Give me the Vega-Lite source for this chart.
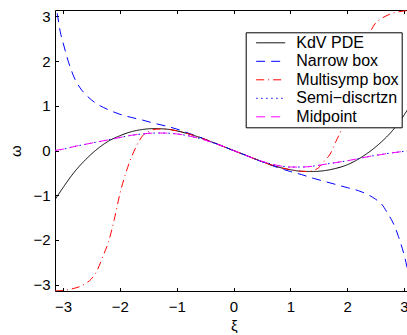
{
  "$schema": "https://vega.github.io/schema/vega-lite/v6.json",
  "width": 352,
  "height": 281,
  "autosize": {"type": "none"},
  "padding": {"left": 55, "top": 10, "right": 0, "bottom": 44},
  "background": "white",
  "config": {
    "view": {"stroke": null},
    "font": "Liberation Sans",
    "axis": {
      "grid": false,
      "domainColor": "black",
      "tickColor": "black",
      "labelColor": "black",
      "titleColor": "black",
      "labelFont": "Liberation Sans",
      "titleFont": "Liberation Sans",
      "labelFontSize": 15,
      "titleFontSize": 15,
      "titleFontWeight": "normal",
      "domainWidth": 1,
      "tickWidth": 1
    }
  },
  "data": {
    "values": [
      {"s": "KdV PDE", "x": -3.1416, "y": -1.10},
      {"s": "KdV PDE", "x": -3.0, "y": -0.83},
      {"s": "KdV PDE", "x": -2.8, "y": -0.48},
      {"s": "KdV PDE", "x": -2.6, "y": -0.20},
      {"s": "KdV PDE", "x": -2.4, "y": 0.03},
      {"s": "KdV PDE", "x": -2.2, "y": 0.21},
      {"s": "KdV PDE", "x": -2.0, "y": 0.33},
      {"s": "KdV PDE", "x": -1.8, "y": 0.42},
      {"s": "KdV PDE", "x": -1.6, "y": 0.47},
      {"s": "KdV PDE", "x": -1.4, "y": 0.49},
      {"s": "KdV PDE", "x": -1.2, "y": 0.48},
      {"s": "KdV PDE", "x": -1.0, "y": 0.44},
      {"s": "KdV PDE", "x": -0.8, "y": 0.375},
      {"s": "KdV PDE", "x": -0.6, "y": 0.295},
      {"s": "KdV PDE", "x": -0.4, "y": 0.20},
      {"s": "KdV PDE", "x": -0.2, "y": 0.10},
      {"s": "KdV PDE", "x": 0.0, "y": 0.0},
      {"s": "KdV PDE", "x": 0.2, "y": -0.10},
      {"s": "KdV PDE", "x": 0.4, "y": -0.20},
      {"s": "KdV PDE", "x": 0.6, "y": -0.295},
      {"s": "KdV PDE", "x": 0.8, "y": -0.375},
      {"s": "KdV PDE", "x": 1.0, "y": -0.43},
      {"s": "KdV PDE", "x": 1.2, "y": -0.465},
      {"s": "KdV PDE", "x": 1.4, "y": -0.47},
      {"s": "KdV PDE", "x": 1.6, "y": -0.45},
      {"s": "KdV PDE", "x": 1.8, "y": -0.40},
      {"s": "KdV PDE", "x": 2.0, "y": -0.32},
      {"s": "KdV PDE", "x": 2.2, "y": -0.19},
      {"s": "KdV PDE", "x": 2.4, "y": -0.02},
      {"s": "KdV PDE", "x": 2.6, "y": 0.19},
      {"s": "KdV PDE", "x": 2.8, "y": 0.45},
      {"s": "KdV PDE", "x": 3.0, "y": 0.79},
      {"s": "KdV PDE", "x": 3.1416, "y": 1.08},

      {"s": "Narrow box", "x": -3.1416, "y": 3.4},
      {"s": "Narrow box", "x": -3.1, "y": 3.05},
      {"s": "Narrow box", "x": -3.05, "y": 2.66},
      {"s": "Narrow box", "x": -3.0, "y": 2.41},
      {"s": "Narrow box", "x": -2.95, "y": 2.18},
      {"s": "Narrow box", "x": -2.9, "y": 1.96},
      {"s": "Narrow box", "x": -2.85, "y": 1.78},
      {"s": "Narrow box", "x": -2.8, "y": 1.62},
      {"s": "Narrow box", "x": -2.7, "y": 1.40},
      {"s": "Narrow box", "x": -2.6, "y": 1.25},
      {"s": "Narrow box", "x": -2.5, "y": 1.13},
      {"s": "Narrow box", "x": -2.4, "y": 1.04},
      {"s": "Narrow box", "x": -2.2, "y": 0.91},
      {"s": "Narrow box", "x": -2.0, "y": 0.81},
      {"s": "Narrow box", "x": -1.8, "y": 0.74},
      {"s": "Narrow box", "x": -1.6, "y": 0.68},
      {"s": "Narrow box", "x": -1.4, "y": 0.61},
      {"s": "Narrow box", "x": -1.2, "y": 0.55},
      {"s": "Narrow box", "x": -1.0, "y": 0.48},
      {"s": "Narrow box", "x": -0.8, "y": 0.39},
      {"s": "Narrow box", "x": -0.6, "y": 0.30},
      {"s": "Narrow box", "x": -0.4, "y": 0.20},
      {"s": "Narrow box", "x": -0.2, "y": 0.10},
      {"s": "Narrow box", "x": 0.0, "y": 0.0},
      {"s": "Narrow box", "x": 0.2, "y": -0.10},
      {"s": "Narrow box", "x": 0.4, "y": -0.20},
      {"s": "Narrow box", "x": 0.6, "y": -0.30},
      {"s": "Narrow box", "x": 0.8, "y": -0.39},
      {"s": "Narrow box", "x": 1.0, "y": -0.47},
      {"s": "Narrow box", "x": 1.2, "y": -0.54},
      {"s": "Narrow box", "x": 1.4, "y": -0.62},
      {"s": "Narrow box", "x": 1.6, "y": -0.69},
      {"s": "Narrow box", "x": 1.8, "y": -0.76},
      {"s": "Narrow box", "x": 2.0, "y": -0.83},
      {"s": "Narrow box", "x": 2.2, "y": -0.90},
      {"s": "Narrow box", "x": 2.4, "y": -1.01},
      {"s": "Narrow box", "x": 2.5, "y": -1.09},
      {"s": "Narrow box", "x": 2.6, "y": -1.19},
      {"s": "Narrow box", "x": 2.7, "y": -1.38},
      {"s": "Narrow box", "x": 2.8, "y": -1.60},
      {"s": "Narrow box", "x": 2.85, "y": -1.74},
      {"s": "Narrow box", "x": 2.9, "y": -1.92},
      {"s": "Narrow box", "x": 2.95, "y": -2.11},
      {"s": "Narrow box", "x": 3.0, "y": -2.33},
      {"s": "Narrow box", "x": 3.05, "y": -2.60},
      {"s": "Narrow box", "x": 3.1, "y": -2.98},
      {"s": "Narrow box", "x": 3.1416, "y": -3.4},

      {"s": "Multisymp box", "x": -3.1416, "y": -3.14},
      {"s": "Multisymp box", "x": -3.0, "y": -3.13},
      {"s": "Multisymp box", "x": -2.9, "y": -3.11},
      {"s": "Multisymp box", "x": -2.8, "y": -3.08},
      {"s": "Multisymp box", "x": -2.7, "y": -3.04},
      {"s": "Multisymp box", "x": -2.6, "y": -2.97},
      {"s": "Multisymp box", "x": -2.5, "y": -2.87},
      {"s": "Multisymp box", "x": -2.4, "y": -2.68},
      {"s": "Multisymp box", "x": -2.3, "y": -2.37},
      {"s": "Multisymp box", "x": -2.2, "y": -2.04},
      {"s": "Multisymp box", "x": -2.1, "y": -1.55},
      {"s": "Multisymp box", "x": -2.0, "y": -0.97},
      {"s": "Multisymp box", "x": -1.9, "y": -0.52},
      {"s": "Multisymp box", "x": -1.8, "y": -0.16},
      {"s": "Multisymp box", "x": -1.7, "y": 0.12},
      {"s": "Multisymp box", "x": -1.6, "y": 0.33},
      {"s": "Multisymp box", "x": -1.5, "y": 0.42},
      {"s": "Multisymp box", "x": -1.4, "y": 0.47},
      {"s": "Multisymp box", "x": -1.3, "y": 0.48},
      {"s": "Multisymp box", "x": -1.2, "y": 0.48},
      {"s": "Multisymp box", "x": -1.0, "y": 0.44},
      {"s": "Multisymp box", "x": -0.8, "y": 0.375},
      {"s": "Multisymp box", "x": -0.6, "y": 0.295},
      {"s": "Multisymp box", "x": -0.4, "y": 0.20},
      {"s": "Multisymp box", "x": -0.2, "y": 0.10},
      {"s": "Multisymp box", "x": 0.0, "y": 0.0},
      {"s": "Multisymp box", "x": 0.2, "y": -0.10},
      {"s": "Multisymp box", "x": 0.4, "y": -0.20},
      {"s": "Multisymp box", "x": 0.6, "y": -0.295},
      {"s": "Multisymp box", "x": 0.8, "y": -0.375},
      {"s": "Multisymp box", "x": 1.0, "y": -0.43},
      {"s": "Multisymp box", "x": 1.2, "y": -0.465},
      {"s": "Multisymp box", "x": 1.3, "y": -0.47},
      {"s": "Multisymp box", "x": 1.4, "y": -0.45},
      {"s": "Multisymp box", "x": 1.5, "y": -0.38},
      {"s": "Multisymp box", "x": 1.6, "y": -0.23},
      {"s": "Multisymp box", "x": 1.7, "y": -0.08},
      {"s": "Multisymp box", "x": 1.8, "y": 0.20},
      {"s": "Multisymp box", "x": 1.9, "y": 0.48},
      {"s": "Multisymp box", "x": 2.0, "y": 0.93},
      {"s": "Multisymp box", "x": 2.1, "y": 1.51},
      {"s": "Multisymp box", "x": 2.2, "y": 2.00},
      {"s": "Multisymp box", "x": 2.3, "y": 2.33},
      {"s": "Multisymp box", "x": 2.4, "y": 2.64},
      {"s": "Multisymp box", "x": 2.5, "y": 2.85},
      {"s": "Multisymp box", "x": 2.6, "y": 2.95},
      {"s": "Multisymp box", "x": 2.7, "y": 3.02},
      {"s": "Multisymp box", "x": 2.8, "y": 3.07},
      {"s": "Multisymp box", "x": 2.9, "y": 3.10},
      {"s": "Multisymp box", "x": 3.0, "y": 3.12},
      {"s": "Multisymp box", "x": 3.1416, "y": 3.14},

      {"s": "Semi−discrtzn", "x": -3.1416, "y": 0.0},
      {"s": "Semi−discrtzn", "x": -3.0, "y": 0.03},
      {"s": "Semi−discrtzn", "x": -2.8, "y": 0.09},
      {"s": "Semi−discrtzn", "x": -2.6, "y": 0.14},
      {"s": "Semi−discrtzn", "x": -2.4, "y": 0.19},
      {"s": "Semi−discrtzn", "x": -2.2, "y": 0.24},
      {"s": "Semi−discrtzn", "x": -2.0, "y": 0.29},
      {"s": "Semi−discrtzn", "x": -1.8, "y": 0.34},
      {"s": "Semi−discrtzn", "x": -1.6, "y": 0.37},
      {"s": "Semi−discrtzn", "x": -1.4, "y": 0.39},
      {"s": "Semi−discrtzn", "x": -1.2, "y": 0.39},
      {"s": "Semi−discrtzn", "x": -1.0, "y": 0.37},
      {"s": "Semi−discrtzn", "x": -0.8, "y": 0.33},
      {"s": "Semi−discrtzn", "x": -0.6, "y": 0.27},
      {"s": "Semi−discrtzn", "x": -0.4, "y": 0.19},
      {"s": "Semi−discrtzn", "x": -0.2, "y": 0.10},
      {"s": "Semi−discrtzn", "x": 0.0, "y": 0.0},
      {"s": "Semi−discrtzn", "x": 0.2, "y": -0.10},
      {"s": "Semi−discrtzn", "x": 0.4, "y": -0.20},
      {"s": "Semi−discrtzn", "x": 0.6, "y": -0.28},
      {"s": "Semi−discrtzn", "x": 0.8, "y": -0.34},
      {"s": "Semi−discrtzn", "x": 1.0, "y": -0.37},
      {"s": "Semi−discrtzn", "x": 1.2, "y": -0.37},
      {"s": "Semi−discrtzn", "x": 1.4, "y": -0.35},
      {"s": "Semi−discrtzn", "x": 1.6, "y": -0.31},
      {"s": "Semi−discrtzn", "x": 1.8, "y": -0.27},
      {"s": "Semi−discrtzn", "x": 2.0, "y": -0.23},
      {"s": "Semi−discrtzn", "x": 2.2, "y": -0.18},
      {"s": "Semi−discrtzn", "x": 2.4, "y": -0.13},
      {"s": "Semi−discrtzn", "x": 2.6, "y": -0.09},
      {"s": "Semi−discrtzn", "x": 2.8, "y": -0.05},
      {"s": "Semi−discrtzn", "x": 3.0, "y": -0.02},
      {"s": "Semi−discrtzn", "x": 3.1416, "y": 0.0},

      {"s": "Midpoint", "x": -3.1416, "y": 0.0},
      {"s": "Midpoint", "x": -3.0, "y": 0.03},
      {"s": "Midpoint", "x": -2.8, "y": 0.09},
      {"s": "Midpoint", "x": -2.6, "y": 0.14},
      {"s": "Midpoint", "x": -2.4, "y": 0.19},
      {"s": "Midpoint", "x": -2.2, "y": 0.24},
      {"s": "Midpoint", "x": -2.0, "y": 0.29},
      {"s": "Midpoint", "x": -1.8, "y": 0.34},
      {"s": "Midpoint", "x": -1.6, "y": 0.37},
      {"s": "Midpoint", "x": -1.4, "y": 0.39},
      {"s": "Midpoint", "x": -1.2, "y": 0.39},
      {"s": "Midpoint", "x": -1.0, "y": 0.37},
      {"s": "Midpoint", "x": -0.8, "y": 0.33},
      {"s": "Midpoint", "x": -0.6, "y": 0.27},
      {"s": "Midpoint", "x": -0.4, "y": 0.19},
      {"s": "Midpoint", "x": -0.2, "y": 0.10},
      {"s": "Midpoint", "x": 0.0, "y": 0.0},
      {"s": "Midpoint", "x": 0.2, "y": -0.10},
      {"s": "Midpoint", "x": 0.4, "y": -0.20},
      {"s": "Midpoint", "x": 0.6, "y": -0.28},
      {"s": "Midpoint", "x": 0.8, "y": -0.34},
      {"s": "Midpoint", "x": 1.0, "y": -0.37},
      {"s": "Midpoint", "x": 1.2, "y": -0.37},
      {"s": "Midpoint", "x": 1.4, "y": -0.35},
      {"s": "Midpoint", "x": 1.6, "y": -0.31},
      {"s": "Midpoint", "x": 1.8, "y": -0.27},
      {"s": "Midpoint", "x": 2.0, "y": -0.23},
      {"s": "Midpoint", "x": 2.2, "y": -0.18},
      {"s": "Midpoint", "x": 2.4, "y": -0.13},
      {"s": "Midpoint", "x": 2.6, "y": -0.09},
      {"s": "Midpoint", "x": 2.8, "y": -0.05},
      {"s": "Midpoint", "x": 3.0, "y": -0.02},
      {"s": "Midpoint", "x": 3.1416, "y": 0.0}
    ]
  },
  "layer": [
    {
      "mark": {"type": "line", "clip": true, "strokeWidth": 1, "interpolate": "monotone"},
      "encoding": {
        "x": {
          "field": "x", "type": "quantitative",
          "scale": {"domain": [-3.1416, 3.052], "nice": false, "zero": false},
          "axis": {"values": [-3, -2, -1, 0, 1, 2, 3], "tickSize": -3.5, "labelPadding": 11.5, "title": "ξ", "titleX": 178.8, "titleY": 34, "titleBaseline": "middle", "titleAlign": "center"}
        },
        "y": {
          "field": "y", "type": "quantitative",
          "scale": {"domain": [-3.1416, 3.1416], "nice": false, "zero": false},
          "axis": {"values": [-3, -2, -1, 0, 1, 2, 3], "tickSize": -3.5, "labelPadding": 8.5, "title": "ω", "titleX": -40, "titleY": 140.6, "titleAngle": -90, "titleBaseline": "middle", "titleAlign": "center"}
        },
        "color": {
          "field": "s", "type": "nominal",
          "scale": {"domain": ["KdV PDE", "Narrow box", "Multisymp box", "Semi−discrtzn", "Midpoint"], "range": ["#000000", "#0000ff", "#ff0000", "#0000ff", "#ff00ff"]},
          "legend": {"orient": "none", "legendX": 190.7, "legendY": 22.3, "title": null, "strokeColor": "black", "fillColor": "white", "padding": 2.5, "symbolType": "M -1 0 H 5", "symbolSize": 93.4, "symbolStrokeWidth": 1, "symbolOffset": 4.8, "labelFont": "Liberation Sans", "labelFontSize": 16, "labelColor": "black", "labelOffset": 27.3, "rowPadding": 2.5}
        },
        "strokeDash": {
          "field": "s", "type": "nominal",
          "scale": {"domain": ["KdV PDE", "Narrow box", "Multisymp box", "Semi−discrtzn", "Midpoint"], "range": [[1, 0], [9, 6], [8, 4, 1, 4], [1.5, 3.5], [9, 6]]},
          "legend": {"orient": "none", "legendX": 190.7, "legendY": 22.3, "title": null, "strokeColor": "black", "fillColor": "white", "padding": 2.5, "symbolType": "M -1 0 H 5", "symbolSize": 93.4, "symbolStrokeWidth": 1, "symbolOffset": 4.8, "labelFont": "Liberation Sans", "labelFontSize": 16, "labelColor": "black", "labelOffset": 27.3, "rowPadding": 2.5}
        }
      }
    },
    {
      "mark": {"type": "point", "opacity": 0},
      "encoding": {
        "x": {"field": "x", "type": "quantitative", "axis": {"orient": "top", "values": [-3, -2, -1, 0, 1, 2, 3], "labels": false, "tickSize": -3.5, "title": null}}
      }
    }
  ],
  "resolve": {"axis": {"x": "independent"}}
}
